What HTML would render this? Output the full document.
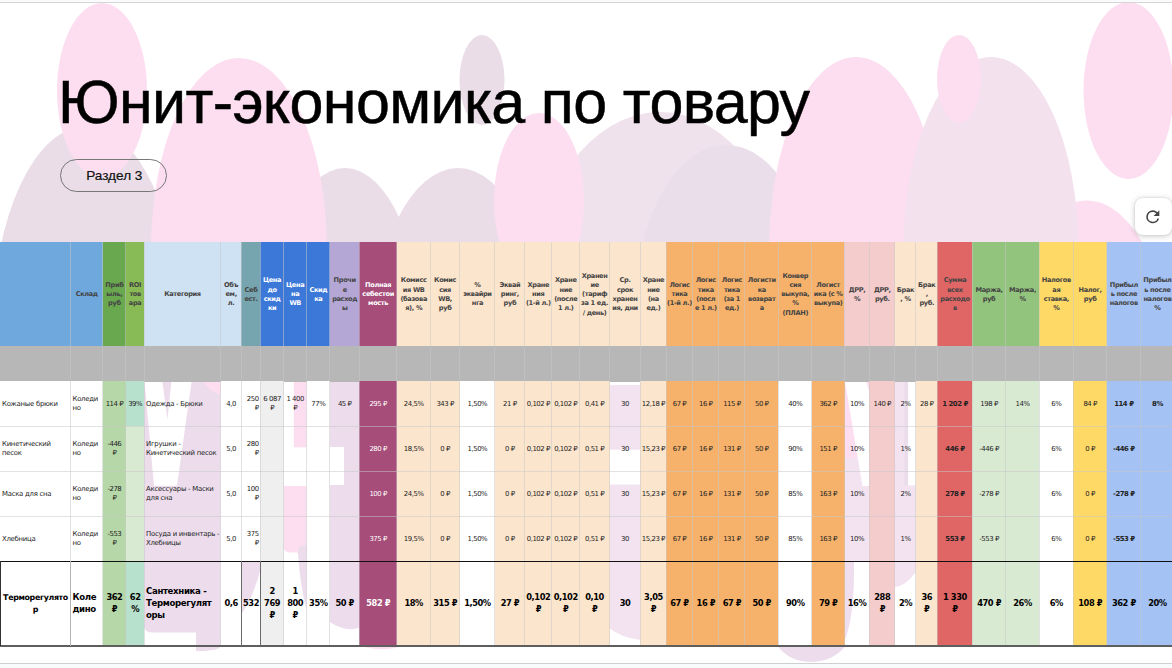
<!DOCTYPE html>
<html lang="ru"><head><meta charset="utf-8"><title>Юнит-экономика по товару</title>
<style>
html,body{margin:0;padding:0;}
body{width:1172px;height:668px;overflow:hidden;background:#fff;position:relative;font-family:"Liberation Sans",sans-serif;}
#bg{position:absolute;left:0;top:0;width:1172px;height:668px;}
#title{position:absolute;left:58px;top:67.3px;font-size:61px;line-height:70px;color:#000;white-space:nowrap;letter-spacing:-0.65px;-webkit-text-stroke:0.5px #000;}
#pill{position:absolute;left:60.3px;top:159px;width:106.5px;height:32.5px;border:1px solid #777;border-radius:17px;box-sizing:border-box;font-size:13.6px;line-height:31px;text-align:center;color:#111;padding-left:1.5px;-webkit-text-stroke:0.2px #111;}
#btn{position:absolute;left:1135px;top:197.5px;width:37px;height:37.5px;background:#fff;border-radius:8px;box-shadow:0 1px 6px rgba(0,0,0,.22),0 0 2px rgba(0,0,0,.12);}
#btn svg{position:absolute;left:8.4px;top:9px;width:19.6px;height:19.6px;}
.c{position:absolute;box-sizing:border-box;display:flex;align-items:center;justify-content:center;text-align:center;overflow:hidden;color:#222;}
.c span{display:block;width:100%;white-space:nowrap;}
#table{font-family:"DejaVu Sans","Liberation Sans",sans-serif;}
.h{font-size:6.6px;line-height:9.2px;font-weight:bold;color:#444;padding-top:0.5px;letter-spacing:-0.35px;}
.h.w{color:#fff;}
.g{}
.gv{position:absolute;width:1px;top:242.3px;height:403.7px;background:rgba(200,200,200,.52);}
.gh{position:absolute;height:1px;left:0;width:1172px;background:rgba(200,200,200,.52);}
.b{font-size:6.9px;line-height:8.7px;padding-bottom:0;letter-spacing:-0.25px;}
.b.s1{padding-bottom:0;padding-top:0.4px;}
.b.w,.l.w{color:#fff;}
.b.la,.l.la{text-align:left;justify-content:flex-start;padding-left:2px;}
.b.ra{text-align:right;padding-right:2.2px;}
.b.bd{font-weight:bold;}
.l{font-size:8.3px;line-height:11.8px;font-weight:bold;color:#000;padding-bottom:0;letter-spacing:-0.35px;}
.l.big{font-size:8.6px;}
.l.sm{font-size:7.9px;}
.b.n{letter-spacing:-0.45px;}
.l.n{letter-spacing:-0.45px;}
#ltop{position:absolute;left:0;top:560.6px;width:1172px;height:1.3px;background:#111;}
#lbot{position:absolute;left:0;top:645px;width:1172px;height:2px;background:#5e5e5e;}
.vl{position:absolute;top:561px;height:85px;width:1px;background:#6a6a6a;}
#topline{position:absolute;left:0;top:2px;width:1172px;height:1px;background:#d6d6d6;}
#topstrip{position:absolute;left:0;top:0;width:1172px;height:2px;background:#fafbfd;}
#footline{position:absolute;left:0;top:663px;width:1172px;height:1px;background:#cfcfcf;}
#foot{position:absolute;left:0;top:664px;width:1172px;height:4px;background:#f9fafc;}
</style></head><body>
<svg id="bg" viewBox="0 0 1172 668" width="1172" height="668">
<g id="top">
<!-- mauve back layer -->
<ellipse cx="86.5" cy="329" rx="94" ry="203" fill="#eadde8"/>
<ellipse cx="482" cy="80" rx="22.5" ry="45" fill="#eadde8"/>
<ellipse cx="345" cy="345" rx="78" ry="177" fill="#eadde8"/>
<ellipse cx="458" cy="345" rx="86" ry="177" fill="#eadde8"/>
<ellipse cx="660" cy="292" rx="127" ry="180" fill="#f0e2ed"/>
<ellipse cx="726" cy="305" rx="90" ry="160" fill="#eadeea"/>

<!-- pink -->
<ellipse cx="1087" cy="393.5" rx="89" ry="193" fill="#fcdef0"/>
<ellipse cx="102" cy="90.5" rx="45" ry="87.5" fill="#fcdef0"/>
<ellipse cx="239" cy="250" rx="88" ry="192" fill="#fcdef0"/>
<ellipse cx="539" cy="200.5" rx="45" ry="87.5" fill="#fcdef0"/>
<ellipse cx="856" cy="250" rx="87" ry="193" fill="#fcdef0"/>
<ellipse cx="1128.5" cy="90.5" rx="45" ry="88.5" fill="#fcdef0"/>
<ellipse cx="991" cy="250" rx="87.5" ry="193" fill="#f3e2ee"/>
<ellipse cx="959" cy="79" rx="22" ry="44" fill="#fcdef0"/>
</g>
<!-- white base under table body -->
<rect x="0" y="381" width="1172" height="287" fill="#fff"/>
<g id="body">
<!-- col 4 category -->
<rect x="144" y="381" width="76.5" height="265" fill="#ecdcec"/>
<path d="M195.5 640 H220.5 V646 Q220 651 196 651 Z" fill="#ecdcec"/>
<path d="M144.5 381.4 L162.4 381.4 L167.4 419.5 L171.4 381.4 L191.6 381.4 L177 485.7 L154 485.7 Z" fill="#fff"/>
<path d="M203 381.4 Q210 392 220.5 395 L220.5 381.4 Z" fill="#fcdef0"/>
<path d="M144 646 V627 Q145 632.6 153 632.6 H196 V646 Z" fill="#fff"/>
<!-- col 6 last row -->
<rect x="241.3" y="561" width="19" height="85" fill="#ecdcec"/>
<path d="M260.3 570 Q253 598 241.3 614 L241.3 646 L260.3 646 Z" fill="#fff"/>
<!-- col 8 -->
<rect x="293.8" y="381.4" width="12.7" height="66" fill="#fcdef0"/>
<path d="M283.4 486 H306.5 V553 H283.4 Z" fill="#fcdef0"/>
<path d="M283.4 553 V546 Q284 552.5 290 552.5 H299 V553 Z" fill="#fff"/>
<path d="M298 553 Q298 548 300 546 L306.5 545 L306.5 610 Q300 585 298 553 Z" fill="#ecdcec"/>
<!-- col 10 -->
<path d="M329.7 381.4 H359.2 V628 Q345 632 329.7 622 Z" fill="#ecdcec"/>
<rect x="329.7" y="447" width="14.3" height="38" fill="#fff"/>
<!-- col 19 -->
<rect x="609.3" y="385" width="31" height="261" fill="#f3e2f0"/>
<rect x="609.3" y="449.7" width="31" height="34.8" fill="#fff"/>
<path d="M609.3 628 Q620 637 640.3 640 V646 H609.3 Z" fill="#fff"/>
<!-- col 27 -->
<rect x="844.2" y="381.4" width="25.2" height="80" fill="#fcdef0"/>
<rect x="844.2" y="458" width="25.2" height="103.4" fill="#f3e2f0"/>
<path d="M845 381.4 L866 381.4 L869.4 392 L869.4 485.9 L862.4 485.9 Z" fill="#fff"/>
<path d="M844.2 561.4 H854 Q855 615 844.2 642 Z" fill="#efdfee"/>
<!-- col 29 -->
<rect x="894.7" y="381.4" width="21.1" height="180" fill="#f3e2f0"/>
<rect x="904.5" y="381.4" width="3.5" height="104" fill="#eadcea"/>
<rect x="908.1" y="381.4" width="7.7" height="104.1" fill="#fff"/>
<path d="M894.7 561 H915.8 V572 Q906 586 894.7 587 Z" fill="#f3e2f0"/>
<!-- below table arc -->
<path d="M778 646.5 Q790 662 811 662 Q832 662 845 646.5 Z" fill="#ecdcec"/>
<path d="M362 646.5 Q385 652 400 646.5 Z" fill="#fcdef0"/>
</g>
</svg>

<div id="topstrip"></div><div id="topline"></div>
<div id="title">Юнит-экономика по товару</div>
<div id="pill">Раздел 3</div>
<div id="btn"><svg viewBox="0 0 24 24"><path d="M17.65 6.35A7.95 7.95 0 0 0 12 4a8 8 0 1 0 7.73 10h-2.08A6 6 0 1 1 12 6c1.66 0 3.14.69 4.22 1.78L13 11h7V4l-2.35 2.35z" fill="#444"/></svg></div>
<div id="table">
<div class="c h" style="left:0.0px;top:242.3px;width:71.0px;height:104.5px;background:#6fa8dc;"><span></span></div>
<div class="c h" style="left:70.5px;top:242.3px;width:32.5px;height:104.5px;background:#6fa8dc;"><span>Склад</span></div>
<div class="c h" style="left:102.5px;top:242.3px;width:23.8px;height:104.5px;background:#6aa84f;"><span>Приб<br>ыль,<br>руб</span></div>
<div class="c h" style="left:125.8px;top:242.3px;width:18.7px;height:104.5px;background:#88ba55;"><span>ROI<br>тов<br>ара</span></div>
<div class="c h" style="left:144.0px;top:242.3px;width:77.0px;height:104.5px;background:#cfe2f3;"><span>Категория</span></div>
<div class="c h" style="left:220.5px;top:242.3px;width:21.3px;height:104.5px;background:#cfe2f3;"><span>Объ<br>ем,<br>л.</span></div>
<div class="c h" style="left:241.3px;top:242.3px;width:19.5px;height:104.5px;background:#76a5af;"><span>Себ<br>ест.</span></div>
<div class="c h w" style="left:260.3px;top:242.3px;width:23.6px;height:104.5px;background:#3c78d8;"><span>Цена<br>до<br>скид<br>ки</span></div>
<div class="c h w" style="left:283.4px;top:242.3px;width:23.6px;height:104.5px;background:#3c78d8;"><span>Цена<br>на<br>WB</span></div>
<div class="c h w" style="left:306.5px;top:242.3px;width:23.7px;height:104.5px;background:#3c78d8;"><span>Скид<br>ка</span></div>
<div class="c h" style="left:329.7px;top:242.3px;width:30.0px;height:104.5px;background:#b4a7d6;"><span>Прочи<br>е<br>расход<br>ы</span></div>
<div class="c h w" style="left:359.2px;top:242.3px;width:37.9px;height:104.5px;background:#a64d79;"><span>Полная<br>себестои<br>мость</span></div>
<div class="c h" style="left:396.6px;top:242.3px;width:34.2px;height:104.5px;background:#fce5cd;"><span>Комисс<br>ия WB<br>(базова<br>я), %</span></div>
<div class="c h" style="left:430.3px;top:242.3px;width:29.7px;height:104.5px;background:#fce5cd;"><span>Комис<br>сия<br>WB,<br>руб</span></div>
<div class="c h" style="left:459.5px;top:242.3px;width:35.8px;height:104.5px;background:#fce5cd;"><span>%<br>эквайри<br>нга</span></div>
<div class="c h" style="left:494.8px;top:242.3px;width:30.2px;height:104.5px;background:#fce5cd;"><span>Эквай<br>ринг,<br>руб</span></div>
<div class="c h" style="left:524.5px;top:242.3px;width:27.6px;height:104.5px;background:#fce5cd;"><span>Хране<br>ния<br>(1-й л.)</span></div>
<div class="c h" style="left:551.6px;top:242.3px;width:28.3px;height:104.5px;background:#fce5cd;"><span>Хране<br>ние<br>(после<br>1 л.)</span></div>
<div class="c h" style="left:579.4px;top:242.3px;width:30.4px;height:104.5px;background:#fce5cd;"><span>Хранен<br>ие<br>(тариф<br>за 1 ед.<br>/ день)</span></div>
<div class="c h" style="left:609.3px;top:242.3px;width:31.5px;height:104.5px;background:#fce5cd;"><span>Ср.<br>срок<br>хранен<br>ия, дни</span></div>
<div class="c h" style="left:640.3px;top:242.3px;width:26.3px;height:104.5px;background:#fce5cd;"><span>Хране<br>ние<br>(на<br>ед.)</span></div>
<div class="c h" style="left:666.1px;top:242.3px;width:26.8px;height:104.5px;background:#f6b26b;"><span>Логис<br>тика<br>(1-й л.)</span></div>
<div class="c h" style="left:692.4px;top:242.3px;width:26.8px;height:104.5px;background:#f6b26b;"><span>Логис<br>тика<br>(посл<br>е 1 л.)</span></div>
<div class="c h" style="left:718.7px;top:242.3px;width:26.4px;height:104.5px;background:#f6b26b;"><span>Логис<br>тика<br>(за 1<br>ед.)</span></div>
<div class="c h" style="left:744.6px;top:242.3px;width:34.3px;height:104.5px;background:#f6b26b;"><span>Логисти<br>ка<br>возврат<br>а</span></div>
<div class="c h" style="left:778.4px;top:242.3px;width:33.8px;height:104.5px;background:#f6b26b;"><span>Конвер<br>сия<br>выкупа,<br>%<br>(ПЛАН)</span></div>
<div class="c h" style="left:811.7px;top:242.3px;width:33.0px;height:104.5px;background:#f6b26b;"><span>Логист<br>ика (с %<br>выкупа)</span></div>
<div class="c h" style="left:844.2px;top:242.3px;width:25.7px;height:104.5px;background:#f4cccc;"><span>ДРР,<br>%</span></div>
<div class="c h" style="left:869.4px;top:242.3px;width:25.8px;height:104.5px;background:#f4cccc;"><span>ДРР,<br>руб.</span></div>
<div class="c h" style="left:894.7px;top:242.3px;width:21.6px;height:104.5px;background:#fce5cd;"><span>Брак<br>, %</span></div>
<div class="c h" style="left:915.8px;top:242.3px;width:21.9px;height:104.5px;background:#fce5cd;"><span>Брак<br>,<br>руб.</span></div>
<div class="c h" style="left:937.2px;top:242.3px;width:35.6px;height:104.5px;background:#e06666;"><span>Сумма<br>всех<br>расходо<br>в</span></div>
<div class="c h" style="left:972.3px;top:242.3px;width:33.6px;height:104.5px;background:#93c47d;"><span>Маржа,<br>руб</span></div>
<div class="c h" style="left:1005.4px;top:242.3px;width:34.3px;height:104.5px;background:#93c47d;"><span>Маржа,<br>%</span></div>
<div class="c h" style="left:1039.2px;top:242.3px;width:34.3px;height:104.5px;background:#ffd966;"><span>Налогов<br>ая<br>ставка,<br>%</span></div>
<div class="c h" style="left:1073.0px;top:242.3px;width:34.3px;height:104.5px;background:#ffd966;"><span>Налог,<br>руб</span></div>
<div class="c h" style="left:1106.8px;top:242.3px;width:34.1px;height:104.5px;background:#a4c2f4;"><span>Прибыл<br>ь после<br>налогов</span></div>
<div class="c h" style="left:1140.4px;top:242.3px;width:34.1px;height:104.5px;background:#a4c2f4;"><span>Прибыл<br>ь после<br>налогов<br>%</span></div>
<div class="c g" style="left:0.0px;top:346.3px;width:71.0px;height:35.6px;background:#b7b7b7;"><span></span></div>
<div class="c g" style="left:70.5px;top:346.3px;width:32.5px;height:35.6px;background:#b7b7b7;"><span></span></div>
<div class="c g" style="left:102.5px;top:346.3px;width:23.8px;height:35.6px;background:#b7b7b7;"><span></span></div>
<div class="c g" style="left:125.8px;top:346.3px;width:18.7px;height:35.6px;background:#b7b7b7;"><span></span></div>
<div class="c g" style="left:144.0px;top:346.3px;width:77.0px;height:35.6px;background:#b7b7b7;"><span></span></div>
<div class="c g" style="left:220.5px;top:346.3px;width:21.3px;height:35.6px;background:#b7b7b7;"><span></span></div>
<div class="c g" style="left:241.3px;top:346.3px;width:19.5px;height:35.6px;background:#b7b7b7;"><span></span></div>
<div class="c g" style="left:260.3px;top:346.3px;width:23.6px;height:35.6px;background:#b7b7b7;"><span></span></div>
<div class="c g" style="left:283.4px;top:346.3px;width:23.6px;height:35.6px;background:#b7b7b7;"><span></span></div>
<div class="c g" style="left:306.5px;top:346.3px;width:23.7px;height:35.6px;background:#b7b7b7;"><span></span></div>
<div class="c g" style="left:329.7px;top:346.3px;width:30.0px;height:35.6px;background:#b7b7b7;"><span></span></div>
<div class="c g" style="left:359.2px;top:346.3px;width:37.9px;height:35.6px;background:#b7b7b7;"><span></span></div>
<div class="c g" style="left:396.6px;top:346.3px;width:34.2px;height:35.6px;background:#b7b7b7;"><span></span></div>
<div class="c g" style="left:430.3px;top:346.3px;width:29.7px;height:35.6px;background:#b7b7b7;"><span></span></div>
<div class="c g" style="left:459.5px;top:346.3px;width:35.8px;height:35.6px;background:#b7b7b7;"><span></span></div>
<div class="c g" style="left:494.8px;top:346.3px;width:30.2px;height:35.6px;background:#b7b7b7;"><span></span></div>
<div class="c g" style="left:524.5px;top:346.3px;width:27.6px;height:35.6px;background:#b7b7b7;"><span></span></div>
<div class="c g" style="left:551.6px;top:346.3px;width:28.3px;height:35.6px;background:#b7b7b7;"><span></span></div>
<div class="c g" style="left:579.4px;top:346.3px;width:30.4px;height:35.6px;background:#b7b7b7;"><span></span></div>
<div class="c g" style="left:609.3px;top:346.3px;width:31.5px;height:35.6px;background:#b7b7b7;"><span></span></div>
<div class="c g" style="left:640.3px;top:346.3px;width:26.3px;height:35.6px;background:#b7b7b7;"><span></span></div>
<div class="c g" style="left:666.1px;top:346.3px;width:26.8px;height:35.6px;background:#b7b7b7;"><span></span></div>
<div class="c g" style="left:692.4px;top:346.3px;width:26.8px;height:35.6px;background:#b7b7b7;"><span></span></div>
<div class="c g" style="left:718.7px;top:346.3px;width:26.4px;height:35.6px;background:#b7b7b7;"><span></span></div>
<div class="c g" style="left:744.6px;top:346.3px;width:34.3px;height:35.6px;background:#b7b7b7;"><span></span></div>
<div class="c g" style="left:778.4px;top:346.3px;width:33.8px;height:35.6px;background:#b7b7b7;"><span></span></div>
<div class="c g" style="left:811.7px;top:346.3px;width:33.0px;height:35.6px;background:#b7b7b7;"><span></span></div>
<div class="c g" style="left:844.2px;top:346.3px;width:25.7px;height:35.6px;background:#b7b7b7;"><span></span></div>
<div class="c g" style="left:869.4px;top:346.3px;width:25.8px;height:35.6px;background:#b7b7b7;"><span></span></div>
<div class="c g" style="left:894.7px;top:346.3px;width:21.6px;height:35.6px;background:#b7b7b7;"><span></span></div>
<div class="c g" style="left:915.8px;top:346.3px;width:21.9px;height:35.6px;background:#b7b7b7;"><span></span></div>
<div class="c g" style="left:937.2px;top:346.3px;width:35.6px;height:35.6px;background:#b7b7b7;"><span></span></div>
<div class="c g" style="left:972.3px;top:346.3px;width:33.6px;height:35.6px;background:#b7b7b7;"><span></span></div>
<div class="c g" style="left:1005.4px;top:346.3px;width:34.3px;height:35.6px;background:#b7b7b7;"><span></span></div>
<div class="c g" style="left:1039.2px;top:346.3px;width:34.3px;height:35.6px;background:#b7b7b7;"><span></span></div>
<div class="c g" style="left:1073.0px;top:346.3px;width:34.3px;height:35.6px;background:#b7b7b7;"><span></span></div>
<div class="c g" style="left:1106.8px;top:346.3px;width:34.1px;height:35.6px;background:#b7b7b7;"><span></span></div>
<div class="c g" style="left:1140.4px;top:346.3px;width:34.1px;height:35.6px;background:#b7b7b7;"><span></span></div>
<div class="c b la s1" style="left:0.0px;top:381.4px;width:71.0px;height:45.5px;background:#ffffff;"><span>Кожаные брюки</span></div>
<div class="c b la" style="left:70.5px;top:381.4px;width:32.5px;height:45.5px;background:#ffffff;"><span>Коледи<br>но</span></div>
<div class="c b s1 n" style="left:102.5px;top:381.4px;width:23.8px;height:45.5px;background:#b6d7a8;"><span>114 ₽</span></div>
<div class="c b s1 n" style="left:125.8px;top:381.4px;width:18.7px;height:45.5px;background:#b7e1cd;"><span>39%</span></div>
<div class="c b la s1" style="left:144.0px;top:381.4px;width:77.0px;height:45.5px;"><span>Одежда - Брюки</span></div>
<div class="c b s1 n" style="left:220.5px;top:381.4px;width:21.3px;height:45.5px;background:#ffffff;"><span>4,0</span></div>
<div class="c b ra n" style="left:241.3px;top:381.4px;width:19.5px;height:45.5px;background:#ffffff;"><span>250<br>₽</span></div>
<div class="c b n" style="left:260.3px;top:381.4px;width:23.6px;height:45.5px;background:#efefef;"><span>6 087<br>₽</span></div>
<div class="c b n" style="left:283.4px;top:381.4px;width:23.6px;height:45.5px;"><span>1 400<br>₽</span></div>
<div class="c b s1 n" style="left:306.5px;top:381.4px;width:23.7px;height:45.5px;background:#ffffff;"><span>77%</span></div>
<div class="c b s1 n" style="left:329.7px;top:381.4px;width:30.0px;height:45.5px;"><span>45 ₽</span></div>
<div class="c b w s1 n" style="left:359.2px;top:381.4px;width:37.9px;height:45.5px;background:#a64d79;"><span>295 ₽</span></div>
<div class="c b s1 n" style="left:396.6px;top:381.4px;width:34.2px;height:45.5px;background:#fce5cd;"><span>24,5%</span></div>
<div class="c b s1 n" style="left:430.3px;top:381.4px;width:29.7px;height:45.5px;background:#fce5cd;"><span>343 ₽</span></div>
<div class="c b s1 n" style="left:459.5px;top:381.4px;width:35.8px;height:45.5px;background:#ffffff;"><span>1,50%</span></div>
<div class="c b s1 n" style="left:494.8px;top:381.4px;width:30.2px;height:45.5px;background:#fce5cd;"><span>21 ₽</span></div>
<div class="c b s1 n" style="left:524.5px;top:381.4px;width:27.6px;height:45.5px;background:#fce5cd;"><span>0,102 ₽</span></div>
<div class="c b s1 n" style="left:551.6px;top:381.4px;width:28.3px;height:45.5px;background:#fce5cd;"><span>0,102 ₽</span></div>
<div class="c b s1 n" style="left:579.4px;top:381.4px;width:30.4px;height:45.5px;background:#fce5cd;"><span>0,41 ₽</span></div>
<div class="c b s1 n" style="left:609.3px;top:381.4px;width:31.5px;height:45.5px;"><span>30</span></div>
<div class="c b s1 n" style="left:640.3px;top:381.4px;width:26.3px;height:45.5px;background:#fce5cd;"><span>12,18 ₽</span></div>
<div class="c b s1 n" style="left:666.1px;top:381.4px;width:26.8px;height:45.5px;background:#f6b26b;"><span>67 ₽</span></div>
<div class="c b s1 n" style="left:692.4px;top:381.4px;width:26.8px;height:45.5px;background:#f6b26b;"><span>16 ₽</span></div>
<div class="c b s1 n" style="left:718.7px;top:381.4px;width:26.4px;height:45.5px;background:#f6b26b;"><span>115 ₽</span></div>
<div class="c b s1 n" style="left:744.6px;top:381.4px;width:34.3px;height:45.5px;background:#f6b26b;"><span>50 ₽</span></div>
<div class="c b s1 n" style="left:778.4px;top:381.4px;width:33.8px;height:45.5px;background:#ffffff;"><span>40%</span></div>
<div class="c b s1 n" style="left:811.7px;top:381.4px;width:33.0px;height:45.5px;background:#f6b26b;"><span>362 ₽</span></div>
<div class="c b s1 n" style="left:844.2px;top:381.4px;width:25.7px;height:45.5px;"><span>10%</span></div>
<div class="c b s1 n" style="left:869.4px;top:381.4px;width:25.8px;height:45.5px;background:#f4cccc;"><span>140 ₽</span></div>
<div class="c b s1 n" style="left:894.7px;top:381.4px;width:21.6px;height:45.5px;"><span>2%</span></div>
<div class="c b s1 n" style="left:915.8px;top:381.4px;width:21.9px;height:45.5px;background:#fce5cd;"><span>28 ₽</span></div>
<div class="c b bd s1 n" style="left:937.2px;top:381.4px;width:35.6px;height:45.5px;background:#e06666;"><span>1 202 ₽</span></div>
<div class="c b s1 n" style="left:972.3px;top:381.4px;width:33.6px;height:45.5px;background:#d9ead3;"><span>198 ₽</span></div>
<div class="c b s1 n" style="left:1005.4px;top:381.4px;width:34.3px;height:45.5px;background:#d9ead3;"><span>14%</span></div>
<div class="c b s1 n" style="left:1039.2px;top:381.4px;width:34.3px;height:45.5px;background:#ffffff;"><span>6%</span></div>
<div class="c b s1 n" style="left:1073.0px;top:381.4px;width:34.3px;height:45.5px;background:#ffd966;"><span>84 ₽</span></div>
<div class="c b bd s1 n" style="left:1106.8px;top:381.4px;width:34.1px;height:45.5px;background:#a4c2f4;"><span>114 ₽</span></div>
<div class="c b bd s1 n" style="left:1140.4px;top:381.4px;width:34.1px;height:45.5px;background:#a4c2f4;"><span>8%</span></div>
<div class="c b la" style="left:0.0px;top:426.4px;width:71.0px;height:45.5px;background:#ffffff;"><span>Кинетический<br>песок</span></div>
<div class="c b la" style="left:70.5px;top:426.4px;width:32.5px;height:45.5px;background:#ffffff;"><span>Коледи<br>но</span></div>
<div class="c b n" style="left:102.5px;top:426.4px;width:23.8px;height:45.5px;background:#b6d7a8;"><span>-446<br>₽</span></div>
<div class="c b s1 n" style="left:125.8px;top:426.4px;width:18.7px;height:45.5px;background:#d9ead3;"><span></span></div>
<div class="c b la" style="left:144.0px;top:426.4px;width:77.0px;height:45.5px;"><span>Игрушки -<br>Кинетический песок</span></div>
<div class="c b s1 n" style="left:220.5px;top:426.4px;width:21.3px;height:45.5px;background:#ffffff;"><span>5,0</span></div>
<div class="c b ra n" style="left:241.3px;top:426.4px;width:19.5px;height:45.5px;background:#ffffff;"><span>280<br>₽</span></div>
<div class="c b s1 n" style="left:260.3px;top:426.4px;width:23.6px;height:45.5px;background:#efefef;"><span></span></div>
<div class="c b s1 n" style="left:283.4px;top:426.4px;width:23.6px;height:45.5px;"><span></span></div>
<div class="c b s1 n" style="left:306.5px;top:426.4px;width:23.7px;height:45.5px;background:#ffffff;"><span></span></div>
<div class="c b s1 n" style="left:329.7px;top:426.4px;width:30.0px;height:45.5px;"><span></span></div>
<div class="c b w s1 n" style="left:359.2px;top:426.4px;width:37.9px;height:45.5px;background:#a64d79;"><span>280 ₽</span></div>
<div class="c b s1 n" style="left:396.6px;top:426.4px;width:34.2px;height:45.5px;background:#fce5cd;"><span>18,5%</span></div>
<div class="c b s1 n" style="left:430.3px;top:426.4px;width:29.7px;height:45.5px;background:#fce5cd;"><span>0 ₽</span></div>
<div class="c b s1 n" style="left:459.5px;top:426.4px;width:35.8px;height:45.5px;background:#ffffff;"><span>1,50%</span></div>
<div class="c b s1 n" style="left:494.8px;top:426.4px;width:30.2px;height:45.5px;background:#fce5cd;"><span>0 ₽</span></div>
<div class="c b s1 n" style="left:524.5px;top:426.4px;width:27.6px;height:45.5px;background:#fce5cd;"><span>0,102 ₽</span></div>
<div class="c b s1 n" style="left:551.6px;top:426.4px;width:28.3px;height:45.5px;background:#fce5cd;"><span>0,102 ₽</span></div>
<div class="c b s1 n" style="left:579.4px;top:426.4px;width:30.4px;height:45.5px;background:#fce5cd;"><span>0,51 ₽</span></div>
<div class="c b s1 n" style="left:609.3px;top:426.4px;width:31.5px;height:45.5px;"><span>30</span></div>
<div class="c b s1 n" style="left:640.3px;top:426.4px;width:26.3px;height:45.5px;background:#fce5cd;"><span>15,23 ₽</span></div>
<div class="c b s1 n" style="left:666.1px;top:426.4px;width:26.8px;height:45.5px;background:#f6b26b;"><span>67 ₽</span></div>
<div class="c b s1 n" style="left:692.4px;top:426.4px;width:26.8px;height:45.5px;background:#f6b26b;"><span>16 ₽</span></div>
<div class="c b s1 n" style="left:718.7px;top:426.4px;width:26.4px;height:45.5px;background:#f6b26b;"><span>131 ₽</span></div>
<div class="c b s1 n" style="left:744.6px;top:426.4px;width:34.3px;height:45.5px;background:#f6b26b;"><span>50 ₽</span></div>
<div class="c b s1 n" style="left:778.4px;top:426.4px;width:33.8px;height:45.5px;background:#ffffff;"><span>90%</span></div>
<div class="c b s1 n" style="left:811.7px;top:426.4px;width:33.0px;height:45.5px;background:#f6b26b;"><span>151 ₽</span></div>
<div class="c b s1 n" style="left:844.2px;top:426.4px;width:25.7px;height:45.5px;"><span>10%</span></div>
<div class="c b s1 n" style="left:869.4px;top:426.4px;width:25.8px;height:45.5px;background:#f4cccc;"><span></span></div>
<div class="c b s1 n" style="left:894.7px;top:426.4px;width:21.6px;height:45.5px;"><span>1%</span></div>
<div class="c b s1 n" style="left:915.8px;top:426.4px;width:21.9px;height:45.5px;background:#fce5cd;"><span></span></div>
<div class="c b bd s1 n" style="left:937.2px;top:426.4px;width:35.6px;height:45.5px;background:#e06666;"><span>446 ₽</span></div>
<div class="c b s1 n" style="left:972.3px;top:426.4px;width:33.6px;height:45.5px;background:#d9ead3;"><span>-446 ₽</span></div>
<div class="c b s1 n" style="left:1005.4px;top:426.4px;width:34.3px;height:45.5px;background:#d9ead3;"><span></span></div>
<div class="c b s1 n" style="left:1039.2px;top:426.4px;width:34.3px;height:45.5px;background:#ffffff;"><span>6%</span></div>
<div class="c b s1 n" style="left:1073.0px;top:426.4px;width:34.3px;height:45.5px;background:#ffd966;"><span>0 ₽</span></div>
<div class="c b bd s1 n" style="left:1106.8px;top:426.4px;width:34.1px;height:45.5px;background:#a4c2f4;"><span>-446 ₽</span></div>
<div class="c b bd s1 n" style="left:1140.4px;top:426.4px;width:34.1px;height:45.5px;background:#a4c2f4;"><span></span></div>
<div class="c b la s1" style="left:0.0px;top:471.4px;width:71.0px;height:45.5px;background:#ffffff;"><span>Маска для сна</span></div>
<div class="c b la" style="left:70.5px;top:471.4px;width:32.5px;height:45.5px;background:#ffffff;"><span>Коледи<br>но</span></div>
<div class="c b n" style="left:102.5px;top:471.4px;width:23.8px;height:45.5px;background:#b6d7a8;"><span>-278<br>₽</span></div>
<div class="c b s1 n" style="left:125.8px;top:471.4px;width:18.7px;height:45.5px;background:#d9ead3;"><span></span></div>
<div class="c b la" style="left:144.0px;top:471.4px;width:77.0px;height:45.5px;"><span>Аксессуары - Маски<br>для сна</span></div>
<div class="c b s1 n" style="left:220.5px;top:471.4px;width:21.3px;height:45.5px;background:#ffffff;"><span>5,0</span></div>
<div class="c b ra n" style="left:241.3px;top:471.4px;width:19.5px;height:45.5px;background:#ffffff;"><span>100<br>₽</span></div>
<div class="c b s1 n" style="left:260.3px;top:471.4px;width:23.6px;height:45.5px;background:#efefef;"><span></span></div>
<div class="c b s1 n" style="left:283.4px;top:471.4px;width:23.6px;height:45.5px;"><span></span></div>
<div class="c b s1 n" style="left:306.5px;top:471.4px;width:23.7px;height:45.5px;background:#ffffff;"><span></span></div>
<div class="c b s1 n" style="left:329.7px;top:471.4px;width:30.0px;height:45.5px;"><span></span></div>
<div class="c b w s1 n" style="left:359.2px;top:471.4px;width:37.9px;height:45.5px;background:#a64d79;"><span>100 ₽</span></div>
<div class="c b s1 n" style="left:396.6px;top:471.4px;width:34.2px;height:45.5px;background:#fce5cd;"><span>24,5%</span></div>
<div class="c b s1 n" style="left:430.3px;top:471.4px;width:29.7px;height:45.5px;background:#fce5cd;"><span>0 ₽</span></div>
<div class="c b s1 n" style="left:459.5px;top:471.4px;width:35.8px;height:45.5px;background:#ffffff;"><span>1,50%</span></div>
<div class="c b s1 n" style="left:494.8px;top:471.4px;width:30.2px;height:45.5px;background:#fce5cd;"><span>0 ₽</span></div>
<div class="c b s1 n" style="left:524.5px;top:471.4px;width:27.6px;height:45.5px;background:#fce5cd;"><span>0,102 ₽</span></div>
<div class="c b s1 n" style="left:551.6px;top:471.4px;width:28.3px;height:45.5px;background:#fce5cd;"><span>0,102 ₽</span></div>
<div class="c b s1 n" style="left:579.4px;top:471.4px;width:30.4px;height:45.5px;background:#fce5cd;"><span>0,51 ₽</span></div>
<div class="c b s1 n" style="left:609.3px;top:471.4px;width:31.5px;height:45.5px;"><span>30</span></div>
<div class="c b s1 n" style="left:640.3px;top:471.4px;width:26.3px;height:45.5px;background:#fce5cd;"><span>15,23 ₽</span></div>
<div class="c b s1 n" style="left:666.1px;top:471.4px;width:26.8px;height:45.5px;background:#f6b26b;"><span>67 ₽</span></div>
<div class="c b s1 n" style="left:692.4px;top:471.4px;width:26.8px;height:45.5px;background:#f6b26b;"><span>16 ₽</span></div>
<div class="c b s1 n" style="left:718.7px;top:471.4px;width:26.4px;height:45.5px;background:#f6b26b;"><span>131 ₽</span></div>
<div class="c b s1 n" style="left:744.6px;top:471.4px;width:34.3px;height:45.5px;background:#f6b26b;"><span>50 ₽</span></div>
<div class="c b s1 n" style="left:778.4px;top:471.4px;width:33.8px;height:45.5px;background:#ffffff;"><span>85%</span></div>
<div class="c b s1 n" style="left:811.7px;top:471.4px;width:33.0px;height:45.5px;background:#f6b26b;"><span>163 ₽</span></div>
<div class="c b s1 n" style="left:844.2px;top:471.4px;width:25.7px;height:45.5px;"><span>10%</span></div>
<div class="c b s1 n" style="left:869.4px;top:471.4px;width:25.8px;height:45.5px;background:#f4cccc;"><span></span></div>
<div class="c b s1 n" style="left:894.7px;top:471.4px;width:21.6px;height:45.5px;"><span>2%</span></div>
<div class="c b s1 n" style="left:915.8px;top:471.4px;width:21.9px;height:45.5px;background:#fce5cd;"><span></span></div>
<div class="c b bd s1 n" style="left:937.2px;top:471.4px;width:35.6px;height:45.5px;background:#e06666;"><span>278 ₽</span></div>
<div class="c b s1 n" style="left:972.3px;top:471.4px;width:33.6px;height:45.5px;background:#d9ead3;"><span>-278 ₽</span></div>
<div class="c b s1 n" style="left:1005.4px;top:471.4px;width:34.3px;height:45.5px;background:#d9ead3;"><span></span></div>
<div class="c b s1 n" style="left:1039.2px;top:471.4px;width:34.3px;height:45.5px;background:#ffffff;"><span>6%</span></div>
<div class="c b s1 n" style="left:1073.0px;top:471.4px;width:34.3px;height:45.5px;background:#ffd966;"><span>0 ₽</span></div>
<div class="c b bd s1 n" style="left:1106.8px;top:471.4px;width:34.1px;height:45.5px;background:#a4c2f4;"><span>-278 ₽</span></div>
<div class="c b bd s1 n" style="left:1140.4px;top:471.4px;width:34.1px;height:45.5px;background:#a4c2f4;"><span></span></div>
<div class="c b la s1" style="left:0.0px;top:516.4px;width:71.0px;height:45.5px;background:#ffffff;"><span>Хлебница</span></div>
<div class="c b la" style="left:70.5px;top:516.4px;width:32.5px;height:45.5px;background:#ffffff;"><span>Коледи<br>но</span></div>
<div class="c b n" style="left:102.5px;top:516.4px;width:23.8px;height:45.5px;background:#b6d7a8;"><span>-553<br>₽</span></div>
<div class="c b s1 n" style="left:125.8px;top:516.4px;width:18.7px;height:45.5px;background:#d9ead3;"><span></span></div>
<div class="c b la" style="left:144.0px;top:516.4px;width:77.0px;height:45.5px;"><span>Посуда и инвентарь -<br>Хлебницы</span></div>
<div class="c b s1 n" style="left:220.5px;top:516.4px;width:21.3px;height:45.5px;background:#ffffff;"><span>5,0</span></div>
<div class="c b ra n" style="left:241.3px;top:516.4px;width:19.5px;height:45.5px;background:#ffffff;"><span>375<br>₽</span></div>
<div class="c b s1 n" style="left:260.3px;top:516.4px;width:23.6px;height:45.5px;background:#efefef;"><span></span></div>
<div class="c b s1 n" style="left:283.4px;top:516.4px;width:23.6px;height:45.5px;"><span></span></div>
<div class="c b s1 n" style="left:306.5px;top:516.4px;width:23.7px;height:45.5px;background:#ffffff;"><span></span></div>
<div class="c b s1 n" style="left:329.7px;top:516.4px;width:30.0px;height:45.5px;"><span></span></div>
<div class="c b w s1 n" style="left:359.2px;top:516.4px;width:37.9px;height:45.5px;background:#a64d79;"><span>375 ₽</span></div>
<div class="c b s1 n" style="left:396.6px;top:516.4px;width:34.2px;height:45.5px;background:#fce5cd;"><span>19,5%</span></div>
<div class="c b s1 n" style="left:430.3px;top:516.4px;width:29.7px;height:45.5px;background:#fce5cd;"><span>0 ₽</span></div>
<div class="c b s1 n" style="left:459.5px;top:516.4px;width:35.8px;height:45.5px;background:#ffffff;"><span>1,50%</span></div>
<div class="c b s1 n" style="left:494.8px;top:516.4px;width:30.2px;height:45.5px;background:#fce5cd;"><span>0 ₽</span></div>
<div class="c b s1 n" style="left:524.5px;top:516.4px;width:27.6px;height:45.5px;background:#fce5cd;"><span>0,102 ₽</span></div>
<div class="c b s1 n" style="left:551.6px;top:516.4px;width:28.3px;height:45.5px;background:#fce5cd;"><span>0,102 ₽</span></div>
<div class="c b s1 n" style="left:579.4px;top:516.4px;width:30.4px;height:45.5px;background:#fce5cd;"><span>0,51 ₽</span></div>
<div class="c b s1 n" style="left:609.3px;top:516.4px;width:31.5px;height:45.5px;"><span>30</span></div>
<div class="c b s1 n" style="left:640.3px;top:516.4px;width:26.3px;height:45.5px;background:#fce5cd;"><span>15,23 ₽</span></div>
<div class="c b s1 n" style="left:666.1px;top:516.4px;width:26.8px;height:45.5px;background:#f6b26b;"><span>67 ₽</span></div>
<div class="c b s1 n" style="left:692.4px;top:516.4px;width:26.8px;height:45.5px;background:#f6b26b;"><span>16 ₽</span></div>
<div class="c b s1 n" style="left:718.7px;top:516.4px;width:26.4px;height:45.5px;background:#f6b26b;"><span>131 ₽</span></div>
<div class="c b s1 n" style="left:744.6px;top:516.4px;width:34.3px;height:45.5px;background:#f6b26b;"><span>50 ₽</span></div>
<div class="c b s1 n" style="left:778.4px;top:516.4px;width:33.8px;height:45.5px;background:#ffffff;"><span>85%</span></div>
<div class="c b s1 n" style="left:811.7px;top:516.4px;width:33.0px;height:45.5px;background:#f6b26b;"><span>163 ₽</span></div>
<div class="c b s1 n" style="left:844.2px;top:516.4px;width:25.7px;height:45.5px;"><span>10%</span></div>
<div class="c b s1 n" style="left:869.4px;top:516.4px;width:25.8px;height:45.5px;background:#f4cccc;"><span></span></div>
<div class="c b s1 n" style="left:894.7px;top:516.4px;width:21.6px;height:45.5px;"><span>1%</span></div>
<div class="c b s1 n" style="left:915.8px;top:516.4px;width:21.9px;height:45.5px;background:#fce5cd;"><span></span></div>
<div class="c b bd s1 n" style="left:937.2px;top:516.4px;width:35.6px;height:45.5px;background:#e06666;"><span>553 ₽</span></div>
<div class="c b s1 n" style="left:972.3px;top:516.4px;width:33.6px;height:45.5px;background:#d9ead3;"><span>-553 ₽</span></div>
<div class="c b s1 n" style="left:1005.4px;top:516.4px;width:34.3px;height:45.5px;background:#d9ead3;"><span></span></div>
<div class="c b s1 n" style="left:1039.2px;top:516.4px;width:34.3px;height:45.5px;background:#ffffff;"><span>6%</span></div>
<div class="c b s1 n" style="left:1073.0px;top:516.4px;width:34.3px;height:45.5px;background:#ffd966;"><span>0 ₽</span></div>
<div class="c b bd s1 n" style="left:1106.8px;top:516.4px;width:34.1px;height:45.5px;background:#a4c2f4;"><span>-553 ₽</span></div>
<div class="c b bd s1 n" style="left:1140.4px;top:516.4px;width:34.1px;height:45.5px;background:#a4c2f4;"><span></span></div>
<div class="c l sm" style="left:0.0px;top:561.4px;width:71.0px;height:85.1px;background:#ffffff;"><span>Терморегулято<br>р</span></div>
<div class="c l la big" style="left:70.5px;top:561.4px;width:32.5px;height:85.1px;background:#ffffff;"><span>Коле<br>дино</span></div>
<div class="c l n" style="left:102.5px;top:561.4px;width:23.8px;height:85.1px;background:#b6d7a8;"><span>362<br>₽</span></div>
<div class="c l n" style="left:125.8px;top:561.4px;width:18.7px;height:85.1px;background:#b7e1cd;"><span>62<br>%</span></div>
<div class="c l la big" style="left:144.0px;top:561.4px;width:77.0px;height:85.1px;"><span>Сантехника -<br>Терморегулят<br>оры</span></div>
<div class="c l n" style="left:220.5px;top:561.4px;width:21.3px;height:85.1px;background:#ffffff;"><span>0,6</span></div>
<div class="c l n" style="left:241.3px;top:561.4px;width:19.5px;height:85.1px;"><span>532</span></div>
<div class="c l n" style="left:260.3px;top:561.4px;width:23.6px;height:85.1px;background:#efefef;"><span>2<br>769<br>₽</span></div>
<div class="c l n" style="left:283.4px;top:561.4px;width:23.6px;height:85.1px;"><span>1<br>800<br>₽</span></div>
<div class="c l n" style="left:306.5px;top:561.4px;width:23.7px;height:85.1px;background:#ffffff;"><span>35%</span></div>
<div class="c l n" style="left:329.7px;top:561.4px;width:30.0px;height:85.1px;"><span>50 ₽</span></div>
<div class="c l w n" style="left:359.2px;top:561.4px;width:37.9px;height:85.1px;background:#a64d79;"><span>582 ₽</span></div>
<div class="c l n" style="left:396.6px;top:561.4px;width:34.2px;height:85.1px;background:#fce5cd;"><span>18%</span></div>
<div class="c l n" style="left:430.3px;top:561.4px;width:29.7px;height:85.1px;background:#fce5cd;"><span>315 ₽</span></div>
<div class="c l n" style="left:459.5px;top:561.4px;width:35.8px;height:85.1px;background:#ffffff;"><span>1,50%</span></div>
<div class="c l n" style="left:494.8px;top:561.4px;width:30.2px;height:85.1px;background:#fce5cd;"><span>27 ₽</span></div>
<div class="c l n" style="left:524.5px;top:561.4px;width:27.6px;height:85.1px;background:#fce5cd;"><span>0,102<br>₽</span></div>
<div class="c l n" style="left:551.6px;top:561.4px;width:28.3px;height:85.1px;background:#fce5cd;"><span>0,102<br>₽</span></div>
<div class="c l n" style="left:579.4px;top:561.4px;width:30.4px;height:85.1px;background:#fce5cd;"><span>0,10<br>₽</span></div>
<div class="c l n" style="left:609.3px;top:561.4px;width:31.5px;height:85.1px;"><span>30</span></div>
<div class="c l n" style="left:640.3px;top:561.4px;width:26.3px;height:85.1px;background:#fce5cd;"><span>3,05<br>₽</span></div>
<div class="c l n" style="left:666.1px;top:561.4px;width:26.8px;height:85.1px;background:#f6b26b;"><span>67 ₽</span></div>
<div class="c l n" style="left:692.4px;top:561.4px;width:26.8px;height:85.1px;background:#f6b26b;"><span>16 ₽</span></div>
<div class="c l n" style="left:718.7px;top:561.4px;width:26.4px;height:85.1px;background:#f6b26b;"><span>67 ₽</span></div>
<div class="c l n" style="left:744.6px;top:561.4px;width:34.3px;height:85.1px;background:#f6b26b;"><span>50 ₽</span></div>
<div class="c l n" style="left:778.4px;top:561.4px;width:33.8px;height:85.1px;background:#ffffff;"><span>90%</span></div>
<div class="c l n" style="left:811.7px;top:561.4px;width:33.0px;height:85.1px;background:#f6b26b;"><span>79 ₽</span></div>
<div class="c l n" style="left:844.2px;top:561.4px;width:25.7px;height:85.1px;"><span>16%</span></div>
<div class="c l n" style="left:869.4px;top:561.4px;width:25.8px;height:85.1px;background:#f4cccc;"><span>288<br>₽</span></div>
<div class="c l n" style="left:894.7px;top:561.4px;width:21.6px;height:85.1px;"><span>2%</span></div>
<div class="c l n" style="left:915.8px;top:561.4px;width:21.9px;height:85.1px;background:#fce5cd;"><span>36<br>₽</span></div>
<div class="c l n" style="left:937.2px;top:561.4px;width:35.6px;height:85.1px;background:#e06666;"><span>1 330<br>₽</span></div>
<div class="c l n" style="left:972.3px;top:561.4px;width:33.6px;height:85.1px;background:#d9ead3;"><span>470 ₽</span></div>
<div class="c l n" style="left:1005.4px;top:561.4px;width:34.3px;height:85.1px;background:#d9ead3;"><span>26%</span></div>
<div class="c l n" style="left:1039.2px;top:561.4px;width:34.3px;height:85.1px;background:#ffffff;"><span>6%</span></div>
<div class="c l n" style="left:1073.0px;top:561.4px;width:34.3px;height:85.1px;background:#ffd966;"><span>108 ₽</span></div>
<div class="c l n" style="left:1106.8px;top:561.4px;width:34.1px;height:85.1px;background:#a4c2f4;"><span>362 ₽</span></div>
<div class="c l n" style="left:1140.4px;top:561.4px;width:34.1px;height:85.1px;background:#a4c2f4;"><span>20%</span></div>
<div class="gv" style="left:70.0px"></div>
<div class="gv" style="left:102.0px"></div>
<div class="gv" style="left:125.3px"></div>
<div class="gv" style="left:143.5px"></div>
<div class="gv" style="left:220.0px"></div>
<div class="gv" style="left:240.8px"></div>
<div class="gv" style="left:259.8px"></div>
<div class="gv" style="left:282.9px"></div>
<div class="gv" style="left:306.0px"></div>
<div class="gv" style="left:329.2px"></div>
<div class="gv" style="left:358.7px"></div>
<div class="gv" style="left:396.1px"></div>
<div class="gv" style="left:429.8px"></div>
<div class="gv" style="left:459.0px"></div>
<div class="gv" style="left:494.3px"></div>
<div class="gv" style="left:524.0px"></div>
<div class="gv" style="left:551.1px"></div>
<div class="gv" style="left:578.9px"></div>
<div class="gv" style="left:608.8px"></div>
<div class="gv" style="left:639.8px"></div>
<div class="gv" style="left:665.6px"></div>
<div class="gv" style="left:691.9px"></div>
<div class="gv" style="left:718.2px"></div>
<div class="gv" style="left:744.1px"></div>
<div class="gv" style="left:777.9px"></div>
<div class="gv" style="left:811.2px"></div>
<div class="gv" style="left:843.7px"></div>
<div class="gv" style="left:868.9px"></div>
<div class="gv" style="left:894.2px"></div>
<div class="gv" style="left:915.3px"></div>
<div class="gv" style="left:936.7px"></div>
<div class="gv" style="left:971.8px"></div>
<div class="gv" style="left:1004.9px"></div>
<div class="gv" style="left:1038.7px"></div>
<div class="gv" style="left:1072.5px"></div>
<div class="gv" style="left:1106.3px"></div>
<div class="gv" style="left:1139.9px"></div>
<div class="gh" style="top:425.9px"></div>
<div class="gh" style="top:470.9px"></div>
<div class="gh" style="top:515.9px"></div>
<div id="ltop"></div><div id="lbot"></div>
<div class="vl" style="left:0;background:#333"></div><div class="vl" style="left:70.2px;background:#b4b4b4"></div><div class="vl" style="left:241px"></div><div class="vl" style="left:260px"></div>
</div>
<div id="footline"></div><div id="foot"></div>
</body></html>
